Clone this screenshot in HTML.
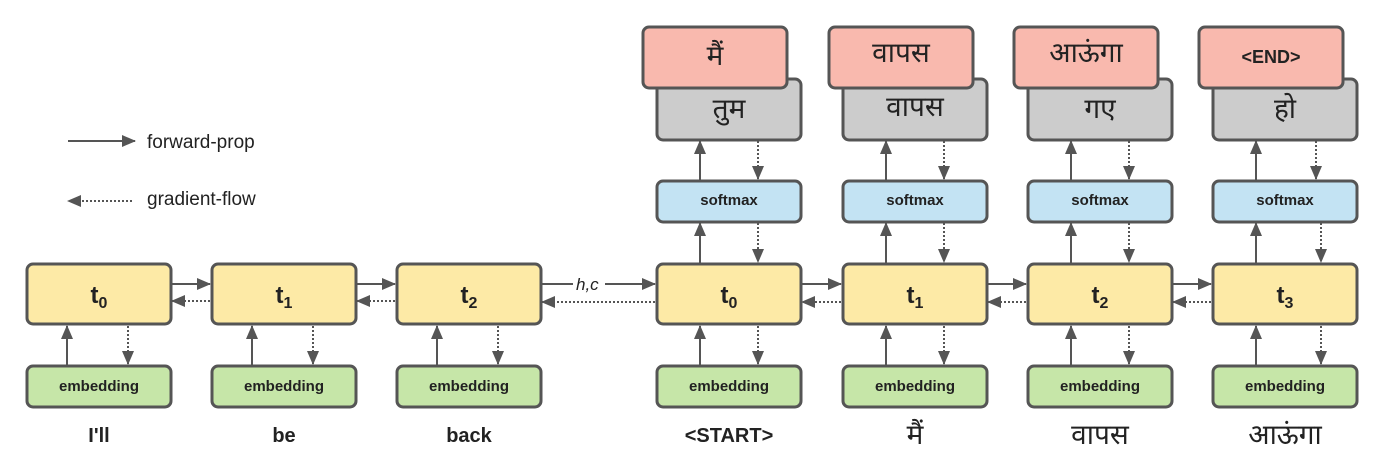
<!DOCTYPE html>
<html><head><meta charset="utf-8"><style>
html,body{margin:0;padding:0;background:#fff;}
svg{display:block}
text{font-family:"Liberation Sans",sans-serif;fill:#222;}
</style></head><body>
<svg width="1400" height="458" viewBox="0 0 1400 458" xmlns="http://www.w3.org/2000/svg">
<defs>
<marker id="a" markerWidth="10" markerHeight="10" refX="9" refY="5" orient="auto" markerUnits="userSpaceOnUse">
<path d="M0,0 L10,5 L0,10 z" fill="#555"/></marker>
<marker id="b" markerWidth="14" markerHeight="12" refX="13" refY="6" orient="auto" markerUnits="userSpaceOnUse">
<path d="M0,0 L14,6 L0,12 z" fill="#555"/></marker>
</defs>
<g stroke="#555" stroke-width="2" fill="none">
<line x1="68" y1="141" x2="135" y2="141" marker-end="url(#b)"/>
<line x1="132" y1="201" x2="68" y2="201" stroke-dasharray="2,2" marker-end="url(#b)"/>
</g>
<text x="147" y="148" font-size="19">forward-prop</text>
<text x="147" y="205" font-size="19">gradient-flow</text>

<g id="boxes" stroke="#555" stroke-width="3">
<!-- encoder -->
<rect x="27" y="264" width="144" height="60" rx="6" fill="#fdeaa6"/>
<rect x="212" y="264" width="144" height="60" rx="6" fill="#fdeaa6"/>
<rect x="397" y="264" width="144" height="60" rx="6" fill="#fdeaa6"/>
<rect x="27" y="366" width="144" height="41" rx="6" fill="#c6e6a8"/>
<rect x="212" y="366" width="144" height="41" rx="6" fill="#c6e6a8"/>
<rect x="397" y="366" width="144" height="41" rx="6" fill="#c6e6a8"/>
<!-- decoder -->
<rect x="657" y="264" width="144" height="60" rx="6" fill="#fdeaa6"/>
<rect x="843" y="264" width="144" height="60" rx="6" fill="#fdeaa6"/>
<rect x="1028" y="264" width="144" height="60" rx="6" fill="#fdeaa6"/>
<rect x="1213" y="264" width="144" height="60" rx="6" fill="#fdeaa6"/>
<rect x="657" y="366" width="144" height="41" rx="6" fill="#c6e6a8"/>
<rect x="843" y="366" width="144" height="41" rx="6" fill="#c6e6a8"/>
<rect x="1028" y="366" width="144" height="41" rx="6" fill="#c6e6a8"/>
<rect x="1213" y="366" width="144" height="41" rx="6" fill="#c6e6a8"/>
<rect x="657" y="181" width="144" height="41" rx="6" fill="#c3e3f3"/>
<rect x="843" y="181" width="144" height="41" rx="6" fill="#c3e3f3"/>
<rect x="1028" y="181" width="144" height="41" rx="6" fill="#c3e3f3"/>
<rect x="1213" y="181" width="144" height="41" rx="6" fill="#c3e3f3"/>
<rect x="657" y="79" width="144" height="61" rx="6" fill="#cccccc"/>
<rect x="843" y="79" width="144" height="61" rx="6" fill="#cccccc"/>
<rect x="1028" y="79" width="144" height="61" rx="6" fill="#cccccc"/>
<rect x="1213" y="79" width="144" height="61" rx="6" fill="#cccccc"/>
<rect x="643" y="27" width="144" height="61" rx="6" fill="#f9b9ae"/>
<rect x="829" y="27" width="144" height="61" rx="6" fill="#f9b9ae"/>
<rect x="1014" y="27" width="144" height="61" rx="6" fill="#f9b9ae"/>
<rect x="1199" y="27" width="144" height="61" rx="6" fill="#f9b9ae"/>
</g>

<g stroke="#555" stroke-width="2" fill="none">
<!-- vertical arrows: encoder emb -> t -->
<line x1="67" y1="365" x2="67" y2="326" marker-end="url(#b)"/>
<line x1="252" y1="365" x2="252" y2="326" marker-end="url(#b)"/>
<line x1="437" y1="365" x2="437" y2="326" marker-end="url(#b)"/>
<g stroke-dasharray="2,2">
<line x1="128" y1="326" x2="128" y2="364" marker-end="url(#b)"/>
<line x1="313" y1="326" x2="313" y2="364" marker-end="url(#b)"/>
<line x1="498" y1="326" x2="498" y2="364" marker-end="url(#b)"/>
</g>
<!-- decoder verticals -->
<line x1="700" y1="365" x2="700" y2="326" marker-end="url(#b)"/>
<line x1="886" y1="365" x2="886" y2="326" marker-end="url(#b)"/>
<line x1="1071" y1="365" x2="1071" y2="326" marker-end="url(#b)"/>
<line x1="1256" y1="365" x2="1256" y2="326" marker-end="url(#b)"/>
<line x1="700" y1="263" x2="700" y2="223" marker-end="url(#b)"/>
<line x1="886" y1="263" x2="886" y2="223" marker-end="url(#b)"/>
<line x1="1071" y1="263" x2="1071" y2="223" marker-end="url(#b)"/>
<line x1="1256" y1="263" x2="1256" y2="223" marker-end="url(#b)"/>
<line x1="700" y1="180" x2="700" y2="141" marker-end="url(#b)"/>
<line x1="886" y1="180" x2="886" y2="141" marker-end="url(#b)"/>
<line x1="1071" y1="180" x2="1071" y2="141" marker-end="url(#b)"/>
<line x1="1256" y1="180" x2="1256" y2="141" marker-end="url(#b)"/>
<g stroke-dasharray="2,2">
<line x1="758" y1="326" x2="758" y2="364" marker-end="url(#b)"/>
<line x1="944" y1="326" x2="944" y2="364" marker-end="url(#b)"/>
<line x1="1129" y1="326" x2="1129" y2="364" marker-end="url(#b)"/>
<line x1="1321" y1="326" x2="1321" y2="364" marker-end="url(#b)"/>
<line x1="758" y1="223" x2="758" y2="262" marker-end="url(#b)"/>
<line x1="944" y1="223" x2="944" y2="262" marker-end="url(#b)"/>
<line x1="1129" y1="223" x2="1129" y2="262" marker-end="url(#b)"/>
<line x1="1321" y1="223" x2="1321" y2="262" marker-end="url(#b)"/>
<line x1="758" y1="141" x2="758" y2="179" marker-end="url(#b)"/>
<line x1="944" y1="141" x2="944" y2="179" marker-end="url(#b)"/>
<line x1="1129" y1="141" x2="1129" y2="179" marker-end="url(#b)"/>
<line x1="1316" y1="141" x2="1316" y2="179" marker-end="url(#b)"/>
</g>
<!-- horizontal -->
<line x1="172" y1="284" x2="210" y2="284" marker-end="url(#b)"/>
<line x1="357" y1="284" x2="395" y2="284" marker-end="url(#b)"/>
<line x1="542" y1="284" x2="655" y2="284" marker-end="url(#b)"/>
<line x1="802" y1="284" x2="841" y2="284" marker-end="url(#b)"/>
<line x1="988" y1="284" x2="1026" y2="284" marker-end="url(#b)"/>
<line x1="1173" y1="284" x2="1211" y2="284" marker-end="url(#b)"/>
<g stroke-dasharray="2,2">
<line x1="210" y1="301" x2="172" y2="301" marker-end="url(#b)"/>
<line x1="395" y1="301" x2="357" y2="301" marker-end="url(#b)"/>
<line x1="655" y1="302" x2="542" y2="302" marker-end="url(#b)"/>
<line x1="841" y1="302" x2="802" y2="302" marker-end="url(#b)"/>
<line x1="1026" y1="302" x2="988" y2="302" marker-end="url(#b)"/>
<line x1="1211" y1="302" x2="1173" y2="302" marker-end="url(#b)"/>
</g>
</g>
<rect x="573" y="274" width="32" height="16" fill="#fff"/>
<text x="576" y="290" font-size="17" font-style="italic">h,c</text>

<g font-size="24" font-weight="bold" text-anchor="middle">
<text x="99" y="303">t<tspan font-size="16" dy="5">0</tspan></text>
<text x="284" y="303">t<tspan font-size="16" dy="5">1</tspan></text>
<text x="469" y="303">t<tspan font-size="16" dy="5">2</tspan></text>
<text x="729" y="303">t<tspan font-size="16" dy="5">0</tspan></text>
<text x="915" y="303">t<tspan font-size="16" dy="5">1</tspan></text>
<text x="1100" y="303">t<tspan font-size="16" dy="5">2</tspan></text>
<text x="1285" y="303">t<tspan font-size="16" dy="5">3</tspan></text>
</g>
<g font-size="15" font-weight="bold" text-anchor="middle">
<text x="99" y="391">embedding</text>
<text x="284" y="391">embedding</text>
<text x="469" y="391">embedding</text>
<text x="729" y="391">embedding</text>
<text x="915" y="391">embedding</text>
<text x="1100" y="391">embedding</text>
<text x="1285" y="391">embedding</text>
<text x="729" y="205">softmax</text>
<text x="915" y="205">softmax</text>
<text x="1100" y="205">softmax</text>
<text x="1285" y="205">softmax</text>
</g>
<g font-size="20" font-weight="bold" text-anchor="middle">
<text x="99" y="442">I'll</text>
<text x="284" y="442">be</text>
<text x="469" y="442">back</text>
<text x="729" y="442">&lt;START&gt;</text>
<text x="1271" y="63" font-size="18">&lt;END&gt;</text>
</g>
<g font-size="28" text-anchor="middle" style="font-family:'Liberation Sans','Noto Sans Devanagari','Lohit Devanagari',sans-serif">
<text x="915" y="444">मैं</text>
<text x="1100" y="444">वापस</text>
<text x="1285" y="444">आऊंगा</text>
<text x="715" y="65">मैं</text>
<text x="901" y="62">वापस</text>
<text x="1086" y="62">आऊंगा</text>
<text x="729" y="118">तुम</text>
<text x="915" y="116">वापस</text>
<text x="1100" y="118">गए</text>
<text x="1285" y="118">हो</text>
</g>
</svg>
</body></html>
